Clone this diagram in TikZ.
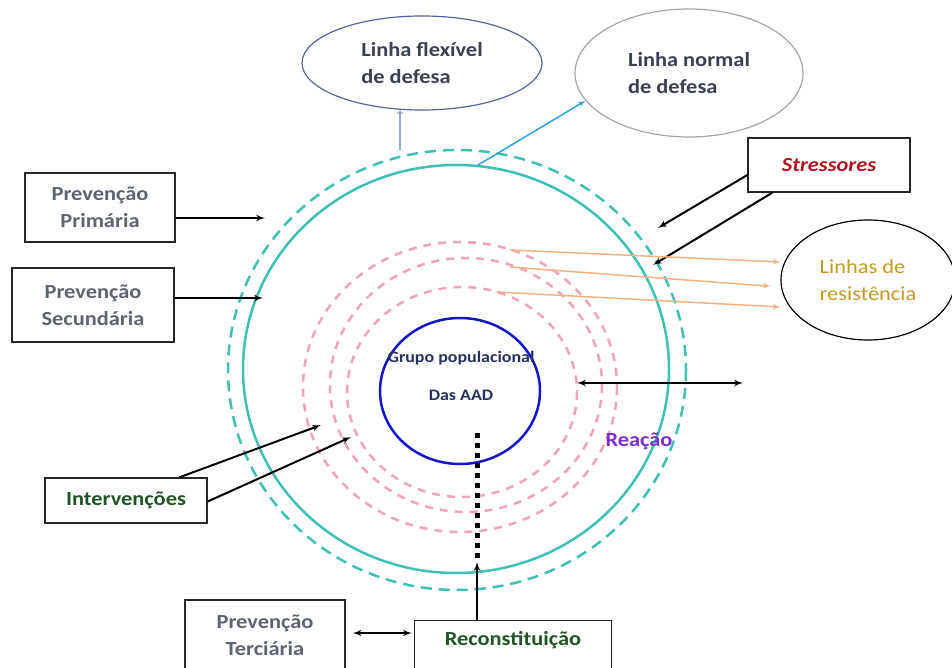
\documentclass[tikz,border=0pt]{standalone}
\usepackage{fontspec}
\setmainfont{Carlito}[FakeStretch=1.12]
\usepackage{tikz}
\usetikzlibrary{arrows,shapes.geometric,positioning,calc}
\definecolor{tealc}{HTML}{3FBFB5}
\definecolor{pinkc}{HTML}{F2A3BC}
\definecolor{orangec}{HTML}{F4B183}
\definecolor{navyt}{HTML}{3B4050}
\definecolor{grpt}{HTML}{25305E}
\definecolor{grayt}{HTML}{5E6370}
\definecolor{greent}{HTML}{215427}
\definecolor{goldt}{HTML}{C49A22}
\definecolor{redt}{HTML}{B0121E}
\definecolor{purplet}{HTML}{7A2FC9}
\definecolor{bluec}{HTML}{1414C8}
\definecolor{skyc}{HTML}{2EA5DE}
\definecolor{steelc}{HTML}{8FA9D2}
\definecolor{slatec}{HTML}{56629C}

\begin{document}
\begin{tikzpicture}[x=1pt, y=-1pt, >=latex', font=\fontsize{20}{27}\selectfont\bfseries]
\tikzstyle{box}=[draw=black!85, line width=1.3pt, inner sep=0pt, align=center]
\tikzstyle{oval}=[ellipse, inner sep=0pt, line width=1.2pt, align=left]
\tikzstyle{blk}=[->, line width=2pt, black]
\tikzstyle{sal}=[->, line width=1.5pt, orangec]
\useasboundingbox (0,0) rectangle (952,668);

\draw[tealc, line width=2.5pt, dash pattern=on 11pt off 7pt] (457,370) ellipse (229 and 220);
\draw[tealc, line width=2.5pt] (456,369) ellipse (213 and 204);
\draw[pinkc, line width=2.5pt, dash pattern=on 8pt off 7pt] (460,387) ellipse (157 and 145);
\draw[pinkc, line width=2.5pt, dash pattern=on 8pt off 7pt] (466,385) ellipse (136 and 127);
\draw[pinkc, line width=2.5pt, dash pattern=on 8pt off 7pt] (462,392) ellipse (115 and 105);

\node[ellipse, draw=bluec, line width=2.5pt, minimum width=160, minimum height=146, inner sep=0pt] (grp) at (460,391) {};
\node[text=grpt, font=\fontsize{16}{38}\selectfont\bfseries, align=center] (grpl) at (461,376)
  {Grupo populacional\\Das AAD};

\node[oval, draw=slatec, minimum width=240, minimum height=94, text=navyt] (lfd) at (422,63)
  {Linha flexível\\de defesa};
\node[oval, draw=black!35, minimum width=228, minimum height=128, text=navyt] (lnd) at (689,73)
  {Linha normal\\de defesa};
\node[oval, draw=black, minimum width=174, minimum height=120, text=goldt, font=\fontsize{20}{27}\selectfont] (lr) at (868,280)
  {Linhas de\\resistência};

\node[box, minimum width=150, minimum height=69, text=grayt] (pp) at (100,207.5) {Prevenção\\Primária};
\node[box, minimum width=162, minimum height=74, text=grayt] (ps) at (93,305) {Prevenção\\Secundária};
\node[box, minimum width=162, minimum height=45, text=greent] (int) at (126,500.5) {Intervenções};
\node[box, minimum width=160, minimum height=70, text=grayt] (pt) at (265,635) {Prevenção\\Terciária};
\node[box, minimum width=197, anchor=north, text height=20pt, text depth=40pt, inner ysep=5pt, text=greent] (rec) at (513,620) {Reconstituição};
\node[box, minimum width=162, minimum height=54, text=redt, font=\fontsize{20}{27}\selectfont\bfseries\itshape] (str) at (829,165) {Stressores};
\node[text=purplet] (rea) at (639,441) {Reação};

\coordinate (pp1) at (265,218);
\coordinate (ps1) at (263,298);
\coordinate (in1) at (321,425);
\coordinate (in2) at (351,437);
\coordinate (st1) at (658,228);
\coordinate (st2) at (653,265);
\coordinate (reL) at (577,383);
\coordinate (reR) at (743,383);
\coordinate (dot0) at (477,433);
\coordinate (dot1) at (477,562);
\coordinate (flx) at (400,150);
\coordinate (nrm) at (478,165);
\coordinate (or1) at (510,250);
\coordinate (or2) at (510,267);
\coordinate (or3) at (497,292);

\draw[blk] ([yshift=-10.5pt]pp.east) -- (pp1);
\draw[blk] ([yshift=7pt]ps.east) -- (ps1);
\draw[blk] ([xshift=135pt]int.north west) -- (in1);
\draw[blk] ([yshift=-1pt]int.east) -- (in2);
\draw[blk] ([yshift=-10pt]str.west) -- (st1);
\draw[blk] ([xshift=25pt]str.south west) -- (st2);
\draw[blk, <->] (reL) -- (reR);
\draw[blk, <->, shorten <=7pt, shorten >=2pt] ([yshift=2pt]pt.east) -- ([yshift=2pt]pt.east -| rec.west);
\draw[blk] (rec.north -| dot1) -- (dot1);
\draw[line width=5pt, dash pattern=on 5pt off 5pt] (dot0) -- (dot1);

\draw[sal] (or1) -- (lr.west |- 0,262);
\draw[sal, shorten >=10pt] (or2) -- (lr.west |- 0,287);
\draw[sal] (or3) -- (lr.west |- 0,307);

\draw[->, >=to, steelc, line width=1.3pt] (flx) -- (flx |- lfd.south);
\draw[->, skyc, line width=1.5pt] (nrm) -- (lnd.195);
\end{tikzpicture}
\end{document}
